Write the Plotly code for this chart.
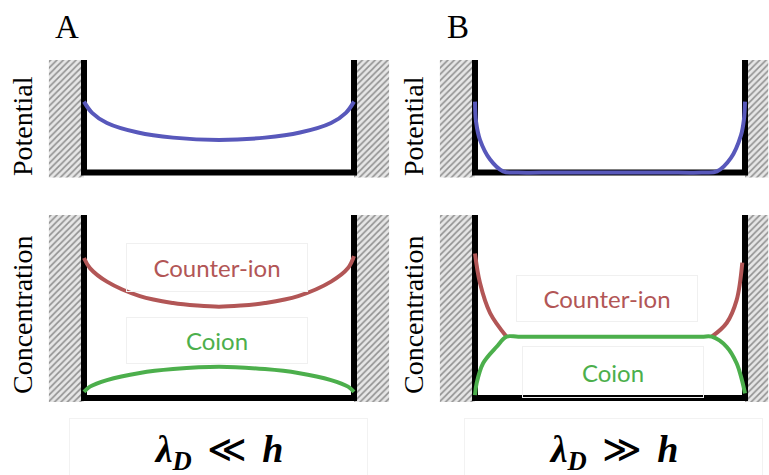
import plotly.graph_objects as go

W, H = 769, 475

# ---- profile data (x = position across the channel, 0 and 1 are the walls) ----
pot_a_x = [0, 0.03, 0.085, 0.2, 0.33, 0.5, 0.67, 0.8, 0.915, 0.97, 1]
pot_a_y = [0.63, 0.53, 0.44, 0.355, 0.31, 0.29, 0.31, 0.355, 0.44, 0.53, 0.63]

pot_b_x = [0, 0.004, 0.0185, 0.056, 0.104, 0.16, 0.3, 0.5, 0.7, 0.84, 0.896, 0.948, 0.985, 0.996, 1]
pot_b_y = [0.63, 0.45, 0.29, 0.115, 0.01, 0, 0, 0, 0, 0, 0.01, 0.13, 0.33, 0.47, 0.63]

counter_a_x = [0, 0.022, 0.085, 0.207, 0.33, 0.42, 0.5, 0.58, 0.67, 0.793, 0.915, 0.978, 1]
counter_a_y = [0.765, 0.71, 0.636, 0.557, 0.519, 0.505, 0.499, 0.505, 0.519, 0.557, 0.636, 0.71, 0.775]

coion_a_x = [0, 0.022, 0.085, 0.207, 0.33, 0.5, 0.67, 0.793, 0.915, 0.978, 1]
coion_a_y = [0.034, 0.062, 0.098, 0.137, 0.158, 0.171, 0.158, 0.137, 0.098, 0.062, 0.034]

counter_b_left_x = [0, 0.0185, 0.056, 0.117]
counter_b_left_y = [0.79, 0.628, 0.464, 0.335]
counter_b_right_x = [0.877, 0.932, 0.969, 0.99]
counter_b_right_y = [0.335, 0.41, 0.535, 0.74]

coion_b_x = [0, 0.006, 0.03, 0.08, 0.117, 0.16, 0.3, 0.5, 0.7, 0.84, 0.877, 0.932, 0.969, 0.99, 1]
coion_b_y = [0.016, 0.08, 0.19, 0.28, 0.335, 0.335, 0.335, 0.335, 0.335, 0.335, 0.335, 0.28, 0.19, 0.09, 0.025]

panel_letters = ["A", "B"]
row_titles = ["Potential", "Concentration"]
species = ["Counter-ion", "Coion"]
regimes = ["<b><i>λ<sub>D</sub></i></b>\u2009\u2009≪\u2009\u2009<b><i>h</i></b>",
           "<b><i>λ<sub>D</sub></i></b>\u2009\u2009≫\u2009\u2009<b><i>h</i></b>"]

BLUE = "#5858bb"
RED = "#b25656"
GREEN = "#4caf4c"

# ---- panel geometry in pixels ----
UNIT_X = 270.0                 # pixels per unit channel width
WALL_LEFT = [84.0, 475.0]      # left wall of columns A and B
X_RANGE = [[-0.15, 1.133], [-0.15, 1.087]]
ROW_ZERO = [172.5, 398.0]      # pixel of y=0 per row
ROW_UNIT = [112.5, 183.0]      # pixels per unit y per row
Y_RANGE = [[-0.1, 1.05], [-0.06, 1.03]]
HATCH_BOTTOM = [-0.045, -0.022]
HATCH_RIGHT = [1.13, 1.087]

fig = go.Figure()
layout = dict(
    width=W, height=H, margin=dict(l=0, r=0, t=0, b=0),
    paper_bgcolor="white", plot_bgcolor="white", showlegend=False,
)

def axis_name(i):
    return "" if i == 1 else str(i)

curves = {
    (0, 0): [(pot_a_x, pot_a_y, BLUE)],
    (0, 1): [(pot_b_x, pot_b_y, BLUE)],
    (1, 0): [(counter_a_x, counter_a_y, RED), (coion_a_x, coion_a_y, GREEN)],
    (1, 1): [(counter_b_left_x, counter_b_left_y, RED),
             (counter_b_right_x, counter_b_right_y, RED),
             (coion_b_x, coion_b_y, GREEN)],
}

hatch = dict(shape="/", size=4.5, solidity=0.35, fgcolor="#909090",
             bgcolor="#e6e6e6", fillmode="replace")

idx = 0
for r in range(2):
    for c in range(2):
        idx += 1
        n = axis_name(idx)
        xr, yr = X_RANGE[c], Y_RANGE[r]
        px0 = WALL_LEFT[c] + xr[0] * UNIT_X
        px1 = WALL_LEFT[c] + xr[1] * UNIT_X
        py_bottom = ROW_ZERO[r] - yr[0] * ROW_UNIT[r]
        py_top = ROW_ZERO[r] - yr[1] * ROW_UNIT[r]
        layout["xaxis" + n] = dict(domain=[px0 / W, min(px1 / W, 1)], range=xr,
                                   visible=False, anchor="y" + n, fixedrange=True)
        layout["yaxis" + n] = dict(domain=[1 - py_bottom / H, 1 - py_top / H], range=yr,
                                   visible=False, anchor="x" + n, fixedrange=True)
        xa, ya = "x" + n, "y" + n

        # hatched solid walls
        hb = HATCH_BOTTOM[r]
        for x0, x1 in [(-0.13, 0), (1, HATCH_RIGHT[c])]:
            fig.add_trace(go.Scatter(
                x=[x0, x1, x1, x0, x0], y=[hb, hb, 1, 1, hb], mode="lines",
                fill="toself", fillpattern=hatch, line=dict(width=0),
                hoverinfo="skip", xaxis=xa, yaxis=ya))
        # channel outline
        fig.add_trace(go.Scatter(
            x=[0, 0, 1, 1], y=[1, 0, 0, 1], mode="lines",
            line=dict(color="black", width=6), hoverinfo="skip",
            xaxis=xa, yaxis=ya))
        # profiles
        for xs, ys, col in curves[(r, c)]:
            fig.add_trace(go.Scatter(
                x=xs, y=ys, mode="lines",
                line=dict(color=col, width=4, shape="spline", smoothing=1.0),
                xaxis=xa, yaxis=ya))

annotations = []
SERIF = "Liberation Serif, Times New Roman, serif"
SANS = "Lato, Open Sans, sans-serif"

def paper(px, py):
    return px / W, 1 - py / H

def note(text, px, py, **kw):
    x, y = paper(px, py)
    d = dict(text=text, x=x, y=y, xref="paper", yref="paper",
             xanchor="center", yanchor="middle", showarrow=False)
    d.update(kw)
    annotations.append(d)

for c, letter in enumerate(panel_letters):
    note(letter, [67, 458][c], 27, font=dict(family=SERIF, size=33, color="black"))
    for r, title in enumerate(row_titles):
        note(title, [22, 413][c], [126, 315][r], textangle=-90,
             font=dict(family=SERIF, size=28, color="black"))

# species labels in light outlined boxes
label_pos = {
    ("Counter-ion", 0): (217, 267, 180, 47),
    ("Coion", 0): (217, 340, 180, 45),
    ("Counter-ion", 1): (607, 298, 180, 45),
    ("Coion", 1): (613, 372, 180, 50),
}
for c in range(2):
    for name, col in zip(species, [RED, GREEN]):
        px, py, bw, bh = label_pos[(name, c)]
        note(name, px, py, width=bw, height=bh, borderpad=0,
             bordercolor="#f0f0f0", borderwidth=1, bgcolor="rgba(0,0,0,0)",
             font=dict(family=SANS, size=24, color=col))

# regime labels
for c, txt in enumerate(regimes):
    note(txt, [218, 613][c], 452, width=297, height=66, borderpad=0,
         bordercolor="#f2f2f2", borderwidth=1,
         font=dict(family=SERIF, size=38, color="black"))

layout["annotations"] = annotations
fig.update_layout(**layout)
fig.write_html("out.html")
